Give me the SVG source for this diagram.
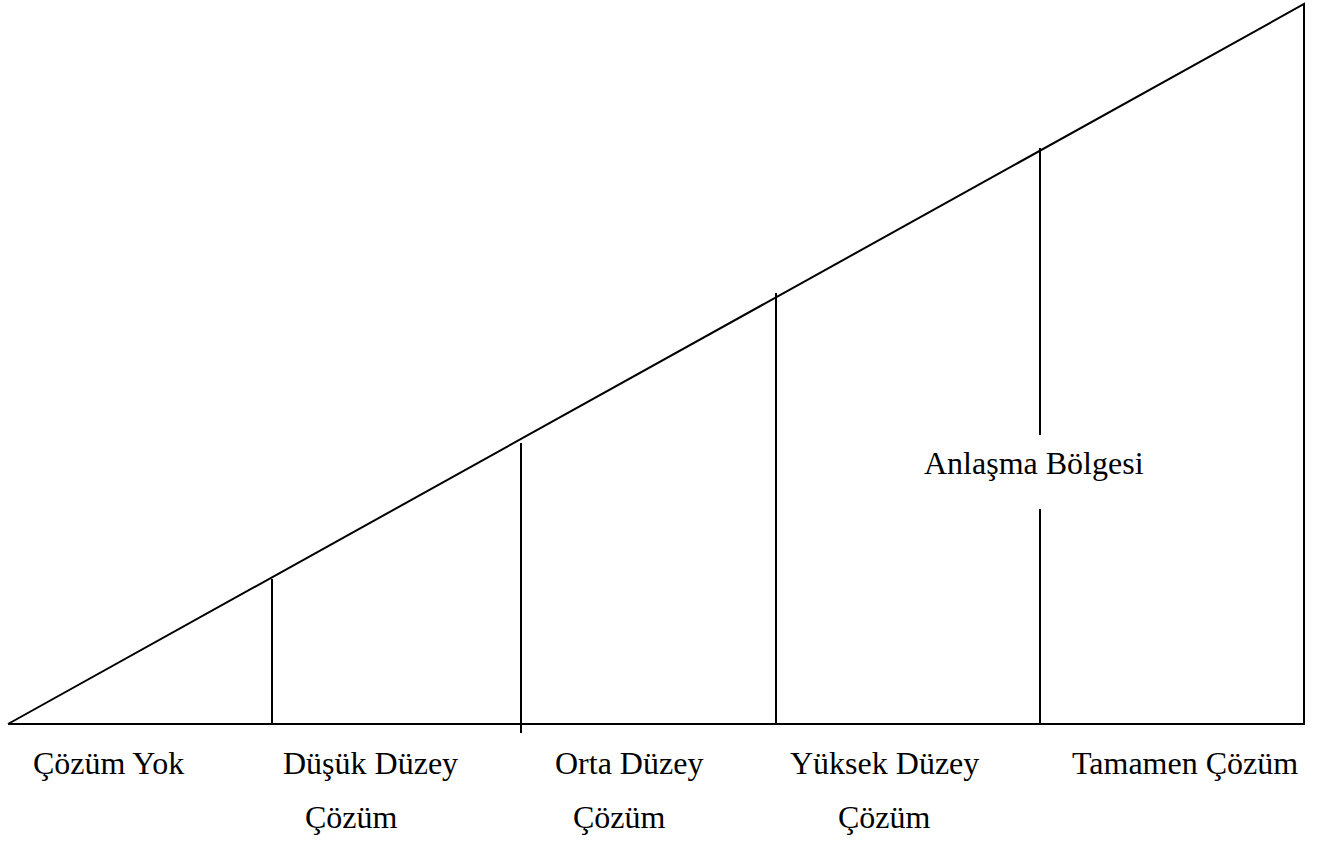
<svg xmlns="http://www.w3.org/2000/svg" width="1323" height="841" viewBox="0 0 1323 841">
<style>
.ln{stroke:#000;stroke-width:2;fill:none}
.t{font-family:"Liberation Serif","Times New Roman",serif;font-size:32px;fill:#000}
</style>
<rect width="1323" height="841" fill="#fff"/>
<g id="connectors">
<polyline class="ln" points="8,724 1304,4 1304,724 8,724"/>
<line class="ln" x1="272" y1="579" x2="272" y2="724"/>
<line class="ln" x1="521" y1="443" x2="521" y2="733"/>
<line class="ln" x1="776" y1="293" x2="776" y2="724"/>
<line class="ln" x1="1040" y1="148" x2="1040" y2="435"/>
<line class="ln" x1="1040" y1="509" x2="1040" y2="724"/>
</g>
<g id="n1"><text class="t" x="33" y="774">Çözüm Yok</text></g>
<g id="n2"><text class="t" x="283" y="774">Düşük Düzey</text><text class="t" x="305" y="828">Çözüm</text></g>
<g id="n3"><text class="t" x="555" y="774">Orta Düzey</text><text class="t" x="573" y="828">Çözüm</text></g>
<g id="n4"><text class="t" x="790" y="774">Yüksek Düzey</text><text class="t" x="838" y="828">Çözüm</text></g>
<g id="n5"><text class="t" x="1072" y="774">Tamamen Çözüm</text></g>
<g id="n6"><text class="t" x="924" y="474">Anlaşma Bölgesi</text></g>
</svg>
